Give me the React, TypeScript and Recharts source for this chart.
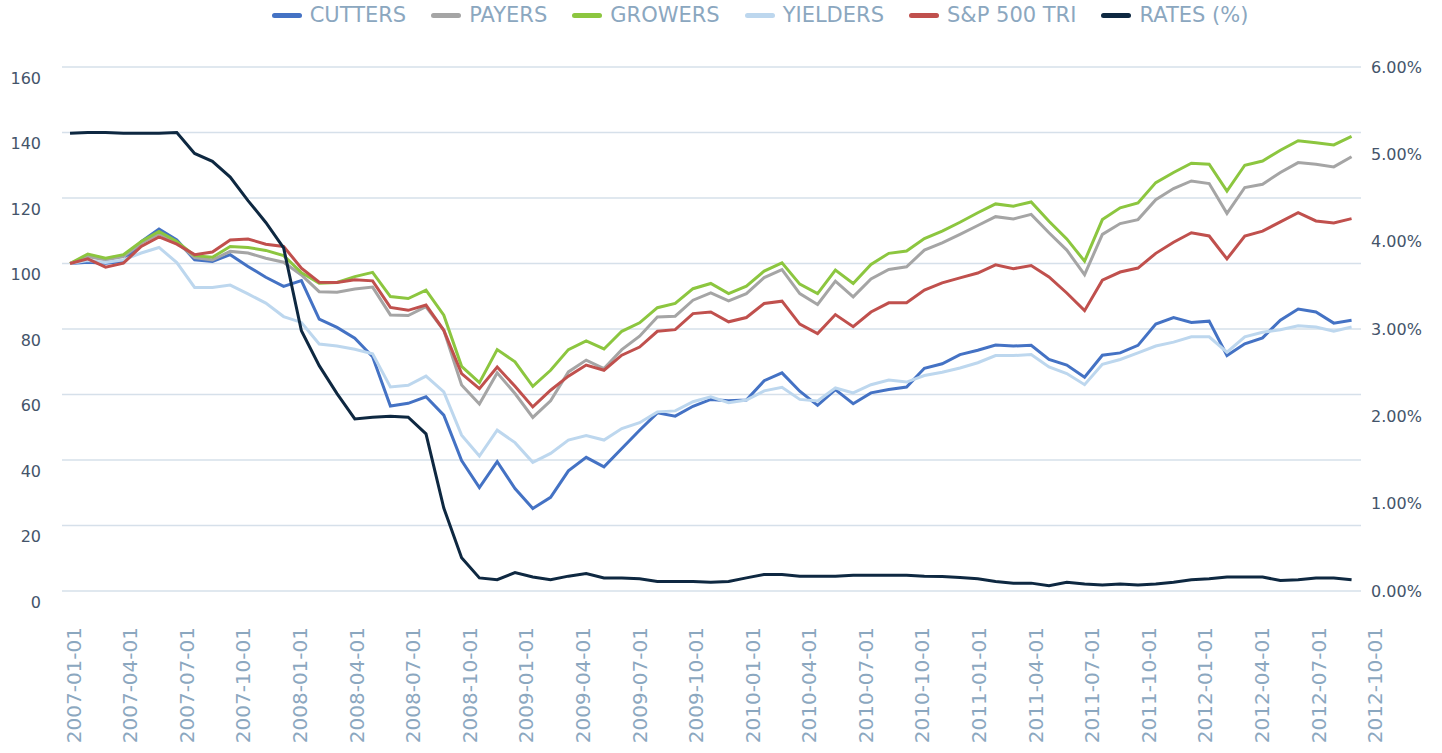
import React from 'react';
import { LineChart, Line, XAxis, YAxis, CartesianGrid } from 'recharts';

document.body.style.margin = '0';

const tickLabels = [
    '2007-01-01', '2007-04-01', '2007-07-01', '2007-10-01',
    '2008-01-01', '2008-04-01', '2008-07-01', '2008-10-01',
    '2009-01-01', '2009-04-01', '2009-07-01', '2009-10-01',
    '2010-01-01', '2010-04-01', '2010-07-01', '2010-10-01',
    '2011-01-01', '2011-04-01', '2011-07-01', '2011-10-01',
    '2012-01-01', '2012-04-01', '2012-07-01', '2012-10-01',
];
const tickMonths = tickLabels.map((_, k) => k * 3);

const leftTicks = [0, 20, 40, 60, 80, 100, 120, 140, 160];
const rightTicks = [0, 1, 2, 3, 4, 5, 6];

const cutters = [
    100, 100.4, 100.1, 100.6, 106.7, 110.5, 107.2, 101.1, 100.6, 102.7, 99.1, 95.8, 93.0, 94.8, 83.0, 80.5, 77.2, 71.5,
    56.5, 57.3, 59.3, 53.7, 39.8, 31.6, 39.5, 31.3, 25.2, 28.6, 36.7, 40.8, 37.9, 43.5, 49.1, 54.4, 53.4, 56.4, 58.5,
    58.1, 58.3, 64.2, 66.6, 61.0, 56.7, 61.5, 57.2, 60.5, 61.5, 62.3, 68.0, 69.4, 72.2, 73.5, 75.1, 74.8, 75.0, 70.7,
    69.0, 65.3, 72.0, 72.7, 75.0, 81.5, 83.5, 82.0, 82.4, 71.9, 75.5, 77.3, 82.7, 86.1, 85.2, 81.8, 82.7,
];
const payers = [
    100, 102.1, 101.1, 102.1, 106.2, 109.1, 106.4, 101.8, 101.1, 103.7, 103.2, 101.6, 100.4, 96.5, 91.4, 91.2, 92.2,
    92.8, 84.3, 84.1, 86.8, 79.6, 62.9, 57.1, 66.6, 60.3, 53.0, 58.1, 66.9, 70.5, 67.9, 73.7, 77.8, 83.7, 83.9, 88.8,
    91.0, 88.6, 90.8, 95.7, 98.1, 90.8, 87.5, 94.6, 89.8, 95.3, 98.2, 99.0, 104.1, 106.3, 108.9, 111.6, 114.3, 113.6,
    115.0, 109.4, 104.1, 96.6, 108.9, 112.2, 113.4, 119.5, 122.9, 125.2, 124.4, 115.3, 123.2, 124.2, 127.8, 130.8,
    130.3, 129.5, 132.6,
];
const growers = [
    100, 102.9, 101.6, 102.7, 106.7, 109.8, 106.7, 102.4, 101.9, 105.2, 104.9, 104.0, 102.4, 97.2, 94.0, 94.2, 96.0,
    97.3, 89.9, 89.3, 91.9, 84.2, 68.6, 63.6, 73.7, 70.0, 62.5, 67.4, 73.7, 76.4, 73.9, 79.3, 81.9, 86.5, 87.8, 92.3,
    93.9, 90.8, 93.1, 97.7, 100.2, 93.7, 90.8, 98.0, 93.9, 99.7, 103.1, 103.8, 107.6, 109.9, 112.6, 115.5, 118.2, 117.5,
    118.8, 112.9, 107.5, 100.7, 113.4, 117.0, 118.5, 124.7, 127.8, 130.6, 130.3, 122.1, 130.0, 131.3, 134.6, 137.5,
    136.9, 136.2, 138.8,
];
const yielders = [
    100, 100.9, 100.3, 101.1, 103.2, 104.9, 100.3, 92.7, 92.7, 93.4, 90.7, 87.9, 83.8, 82.0, 75.4, 74.8, 73.8, 72.4,
    62.3, 62.8, 65.6, 60.8, 47.6, 41.2, 49.1, 45.3, 39.3, 42.0, 46.1, 47.5, 46.1, 49.6, 51.4, 54.7, 55.0, 57.8, 59.3,
    57.5, 58.3, 61.1, 62.2, 58.5, 58.0, 62.0, 60.5, 63.0, 64.4, 63.8, 65.8, 66.8, 68.1, 69.7, 71.9, 71.9, 72.2, 68.4,
    66.4, 63.0, 69.2, 70.7, 72.7, 74.8, 76.0, 77.6, 77.6, 72.9, 77.6, 79.0, 79.8, 81.0, 80.6, 79.3, 80.6,
];
const sp500 = [
    100, 101.4, 98.9, 100.1, 105.2, 108.1, 105.9, 102.7, 103.5, 107.2, 107.5, 105.9, 105.2, 98.6, 94.3, 94.2, 95.0,
    94.7, 86.6, 85.7, 87.3, 79.6, 66.4, 61.8, 68.4, 62.5, 56.2, 61.3, 65.6, 69.0, 67.4, 72.0, 74.5, 79.3, 79.8, 84.7,
    85.2, 82.2, 83.5, 87.8, 88.5, 81.5, 78.6, 84.4, 80.7, 85.2, 88.0, 88.0, 91.9, 94.1, 95.6, 97.1, 99.6, 98.4, 99.4,
    95.9, 91.0, 85.6, 94.9, 97.4, 98.6, 103.1, 106.5, 109.4, 108.4, 101.4, 108.4, 109.9, 112.7, 115.5, 113.0, 112.4,
    113.7,
];
const rates = [
    5.24, 5.25, 5.25, 5.24, 5.24, 5.24, 5.25, 5.01, 4.92, 4.74, 4.47, 4.22, 3.93, 2.98, 2.58, 2.26, 1.97, 1.99, 2.0,
    1.99, 1.8, 0.95, 0.38, 0.15, 0.13, 0.21, 0.16, 0.13, 0.17, 0.2, 0.15, 0.15, 0.14, 0.11, 0.11, 0.11, 0.1, 0.11,
    0.15, 0.19, 0.19, 0.17, 0.17, 0.17, 0.18, 0.18, 0.18, 0.18, 0.17, 0.165, 0.155, 0.14, 0.11, 0.09, 0.09, 0.06, 0.1,
    0.08, 0.07, 0.08, 0.07, 0.08, 0.1, 0.13, 0.14, 0.16, 0.16, 0.16, 0.12, 0.13, 0.15, 0.15, 0.13,
];

const data = cutters.map((v, i) => ({
    i,
    cutters: v,
    payers: payers[i],
    growers: growers[i],
    yielders: yielders[i],
    sp500: sp500[i],
    rates: rates[i],
}));

const series = [
    { key: 'cutters', name: 'CUTTERS', color: '#4472c4', axis: 'left' },
    { key: 'payers', name: 'PAYERS', color: '#a5a5a5', axis: 'left' },
    { key: 'growers', name: 'GROWERS', color: '#8cc63f', axis: 'left' },
    { key: 'yielders', name: 'YIELDERS', color: '#bdd7ee', axis: 'left' },
    { key: 'sp500', name: 'S&P 500 TRI', color: '#c0504d', axis: 'left' },
    { key: 'rates', name: 'RATES (%)', color: '#0e2841', axis: 'right' },
];

const FONT = '"DejaVu Sans", sans-serif';

const LeftTick = ({ x, y, payload }: any) => (
    <text x={x - 21} y={y + 11} dy="0.35em" textAnchor="end" fill="#44546a" fontSize={16} fontFamily={FONT}>
        {payload.value}
    </text>
);

const RightTick = ({ x, y, payload }: any) => (
    <text x={x + 10} y={y} dy="0.35em" textAnchor="start" fill="#44546a" fontSize={16} fontFamily={FONT}>
        {payload.value.toFixed(2)}%
    </text>
);

const DateTick = ({ x, y, payload }: any) => {
    const ty = y + 36;
    return (
        <text
            x={x}
            y={ty}
            dy="0.35em"
            transform={`rotate(-90 ${x} ${ty})`}
            textAnchor="end"
            fill="#8ba7bf"
            fontSize={20}
            fontFamily={FONT}
        >
            {tickLabels[payload.value / 3]}
        </text>
    );
};

const ChartLegend = () => (
    <div
        style={{
            position: 'absolute',
            top: 0,
            left: 0,
            width: 1442,
            paddingLeft: 78,
            boxSizing: 'border-box',
            height: 30,
            display: 'flex',
            justifyContent: 'center',
            alignItems: 'center',
            gap: 25,
            fontFamily: FONT,
            fontSize: 21,
            color: '#8ba7bf',
        }}
    >
        {series.map((s) => (
            <div key={s.key} style={{ display: 'flex', alignItems: 'center', gap: 8 }}>
                <span style={{ width: 30, height: 5, borderRadius: 3, background: s.color, display: 'inline-block' }} />
                <span>{s.name}</span>
            </div>
        ))}
    </div>
);

export default function App() {
    return (
        <div style={{ position: 'relative', width: 1442, height: 753, background: '#fff' }}>
            <ChartLegend />
            <LineChart width={1442} height={753} data={data} margin={{ top: 67, right: 0, bottom: 0, left: 0 }}>
                <CartesianGrid
                    xAxisId="data"
                    yAxisId="left"
                    vertical={false}
                    stroke="#d6e0ea"
                    strokeWidth={1.5}
                />
                <XAxis
                    xAxisId="date"
                    dataKey="month"
                    type="number"
                    domain={[-0.62, 68.25]}
                    allowDataOverflow
                    ticks={tickMonths}
                    interval={0}
                    tick={<DateTick />}
                    tickSize={0}
                    tickMargin={0}
                    tickLine={false}
                    axisLine={false}
                    height={162}
                />
                <XAxis
                    xAxisId="data"
                    dataKey="i"
                    type="number"
                    domain={[-0.45, 72.53]}
                    allowDataOverflow
                    height={0}
                    hide
                />
                <YAxis
                    yAxisId="left"
                    domain={[0, 160]}
                    ticks={leftTicks}
                    interval={0}
                    tick={<LeftTick />}
                    tickSize={0}
                    tickMargin={0}
                    tickLine={false}
                    axisLine={false}
                    width={62}
                />
                <YAxis
                    yAxisId="right"
                    orientation="right"
                    domain={[0, 6]}
                    ticks={rightTicks}
                    interval={0}
                    tick={<RightTick />}
                    tickSize={0}
                    tickMargin={0}
                    tickLine={false}
                    axisLine={false}
                    width={81}
                />
                {series.map((s) => (
                    <Line
                        key={s.key}
                        xAxisId="data"
                        yAxisId={s.axis}
                        type="linear"
                        dataKey={s.key}
                        name={s.name}
                        stroke={s.color}
                        strokeWidth={3}
                        dot={false}
                        isAnimationActive={false}
                    />
                ))}
            </LineChart>
        </div>
    );
}
